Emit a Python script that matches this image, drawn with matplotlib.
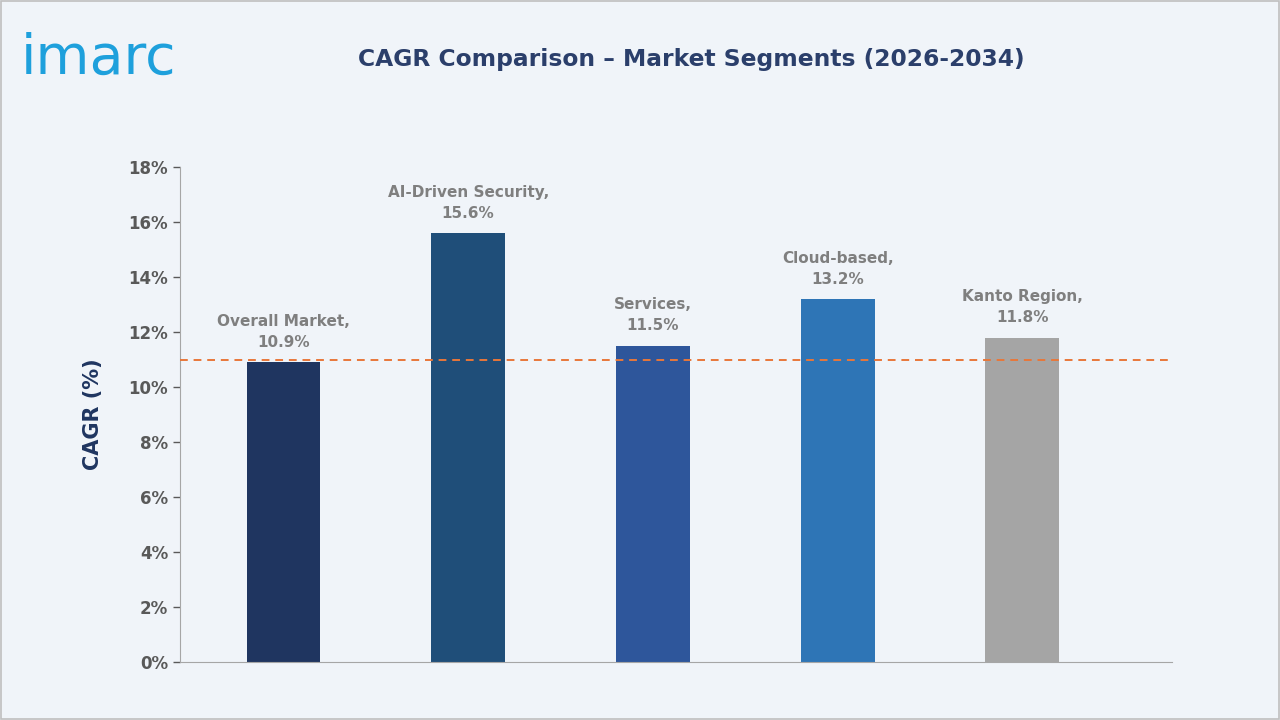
import matplotlib
matplotlib.use('Agg')
import matplotlib.pyplot as plt
from matplotlib.ticker import FuncFormatter
from matplotlib.patches import Rectangle

# chart data
segments = ['Overall Market', 'AI-Driven Security', 'Services', 'Cloud-based', 'Kanto Region']
cagr = [10.9, 15.6, 11.5, 13.2, 11.8]
bar_colors = ['#1F3560', '#1F4E79', '#2E569B', '#2E75B6', '#A5A5A5']
reference_line = 11.0
y_ticks = [0, 2, 4, 6, 8, 10, 12, 14, 16, 18]

bg = '#F0F4F9'
fig = plt.figure(figsize=(12.8, 7.2), dpi=100, facecolor=bg)
fig.patches.append(Rectangle((0.001, 0.001), 0.998, 0.998, transform=fig.transFigure,
                             fill=False, edgecolor='#BFBFBF', linewidth=1.2))

ax = fig.add_axes([180 / 1280, 1 - 662 / 720, (1172 - 180) / 1280, (662 - 167) / 720])
ax.set_facecolor(bg)

x = range(len(segments))
ax.bar(x, cagr, width=0.4, color=bar_colors, zorder=2)
ax.axhline(reference_line, color='#E8773A', linestyle=(0, (4, 3)), linewidth=1.4, zorder=3)

for xi, name, val in zip(x, segments, cagr):
    ax.text(xi, val + 0.45, f'{name},\n{val}%', ha='center', va='bottom',
            fontsize=11, fontweight='bold', color='#7F7F7F', linespacing=1.5)

ax.set_xlim(-0.56, 4.81)
ax.set_ylim(0, 18)
ax.set_yticks(y_ticks)
ax.yaxis.set_major_formatter(FuncFormatter(lambda v, p: f'{v:.0f}%'))
ax.set_xticks([])
ax.tick_params(axis='y', length=5, colors='#595959', labelsize=12, width=1)
for lbl in ax.get_yticklabels():
    lbl.set_color('#595959')
    lbl.set_fontweight('bold')
for s in ('top', 'right'):
    ax.spines[s].set_visible(False)
for s in ('left', 'bottom'):
    ax.spines[s].set_color('#A6A6A6')

ax.set_ylabel('CAGR (%)', fontsize=15, fontweight='bold', color='#1F3560', labelpad=18)

fig.text(0.54, 0.917, 'CAGR Comparison \u2013 Market Segments (2026-2034)', ha='center', va='center',
         fontsize=16.8, fontweight='bold', color='#2B3F6B')
fig.text(0.016, 0.918, 'imarc', ha='left', va='center', fontsize=40,
         color='#1EA0DC', family='DejaVu Sans')

fig.savefig('out.png', dpi=100, facecolor=bg)
